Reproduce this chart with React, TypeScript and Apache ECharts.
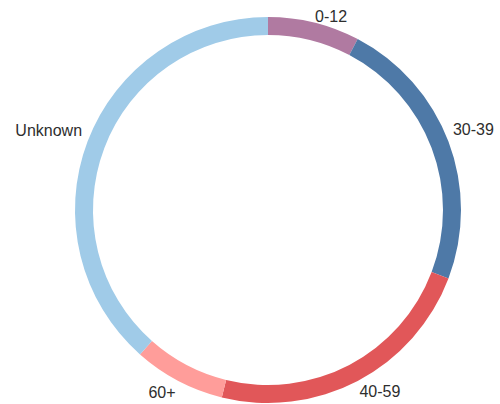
import React, { useEffect, useRef } from "react";
import * as echarts from "echarts";

// Age groups and their counts
const categories = ["0-12", "30-39", "40-59", "60+", "Unknown"];
const counts = [3, 9, 9, 3, 15];
const colors = ["#b07aa1", "#4e79a7", "#e15759", "#ff9d9a", "#a0cbe8"];

// small nudges applied to each outside label
const labelNudge = [
  [-1, 2],
  [-3, -9],
  [-2, 4],
  [1, 5],
  [2, -8],
];

export default function App() {
  const ref = useRef<HTMLDivElement>(null);

  useEffect(() => {
    if (!ref.current) return;
    const chart = echarts.init(ref.current, null, { renderer: "svg" });
    chart.setOption({
      animation: false,
      series: [
        {
          type: "pie",
          center: [268, 210],
          radius: [175, 193],
          startAngle: 90,
          clockwise: true,
          avoidLabelOverlap: false,
          silent: true,
          label: {
            show: true,
            position: "outside",
            fontFamily: "'Liberation Sans', Arial, sans-serif",
            fontSize: 16,
            color: "#2e2e2e",
            distanceToLabelLine: 0,
          },
          labelLine: { show: false, length: 8, length2: 0 },
          labelLayout: (p: any) => ({
            dx: labelNudge[p.dataIndex][0],
            dy: labelNudge[p.dataIndex][1],
          }),
          data: categories.map((name, i) => ({
            name,
            value: counts[i],
            itemStyle: { color: colors[i] },
          })),
        },
      ],
    });
    return () => chart.dispose();
  }, []);

  return (
    <div
      ref={ref}
      style={{ position: "fixed", left: 0, top: 0, width: 500, height: 404, background: "#fff" }}
    />
  );
}
